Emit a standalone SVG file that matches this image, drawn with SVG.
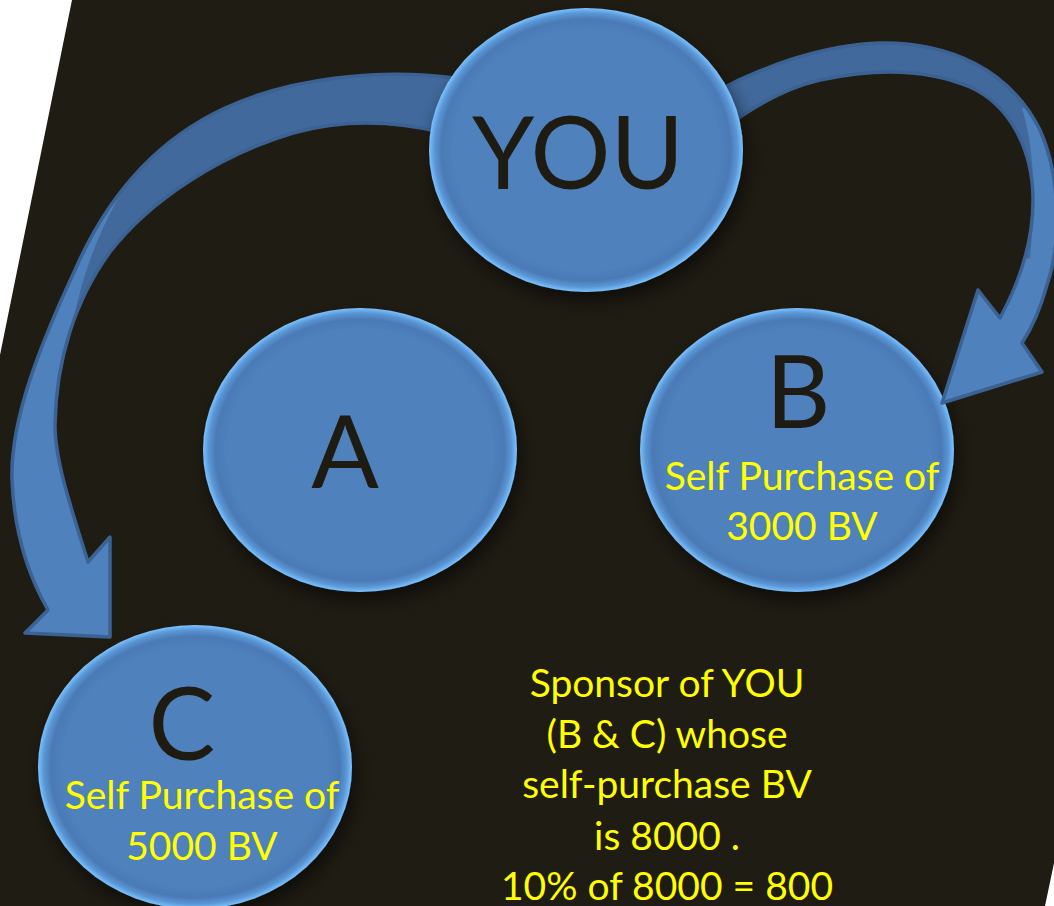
<svg xmlns="http://www.w3.org/2000/svg" width="1054" height="906" viewBox="0 0 1054 906">
<style>
.big{font-family:Lato,"Liberation Sans",sans-serif;font-size:100px;fill:#1e1b12;text-anchor:middle}
.yel{font-family:Lato,"Liberation Sans",sans-serif;font-size:39px;fill:#ffff00;text-anchor:middle}
.node{fill:url(#bubble);filter:url(#sh)}
.face{fill:#4f81bd}
.back{fill:#41699c}
.edge{fill:none;stroke:#3b6293;stroke-width:3.5;stroke-linejoin:round}
</style>
<defs>
<radialGradient id="bubble" cx="0.5" cy="0.5" r="0.5">
<stop offset="0" stop-color="#4f81bd"/>
<stop offset="0.85" stop-color="#4f81bd"/>
<stop offset="0.92" stop-color="#4a7ab5"/>
<stop offset="0.965" stop-color="#5a96d6"/>
<stop offset="1" stop-color="#7cc2ff"/>
</radialGradient>
<filter id="sh" x="-20%" y="-20%" width="150%" height="160%">
<feGaussianBlur in="SourceAlpha" stdDeviation="9"/>
<feOffset dx="4" dy="9" result="b"/>
<feFlood flood-color="#000" flood-opacity="0.55"/>
<feComposite in2="b" operator="in"/>
<feMerge><feMergeNode/><feMergeNode in="SourceGraphic"/></feMerge>
</filter>
<path id="arrL" d="M 455,78 C 380,68 290,78 225,108 C 160,138 110,190 75,270 C 40,345 10,420 12,480 C 14,530 28,575 48,610 L 25,633 L 110,637 L 110,537 L 88,562 C 70,505 55,460 55,425 C 56,360 75,300 110,252 C 150,200 220,155 293,133 C 340,120 390,120 440,132 Z"/>
<path id="arrR" d="M 715,92 C 760,68 820,45 880,43 C 950,42 1010,70 1040,130 C 1060,175 1062,240 1047,285 C 1040,310 1032,328 1022,343 L 1042,372 L 942,403 L 978,290 L 1000,318 C 1018,285 1033,245 1033,200 C 1033,150 1010,105 970,87 C 930,70 880,67 820,80 C 785,88 755,105 725,128 Z"/>
<clipPath id="clipL"><use href="#arrL"/></clipPath>
<clipPath id="clipR"><use href="#arrR"/></clipPath>
</defs>
<rect width="1054" height="906" fill="#ffffff"/>
<polygon points="72,0 1054,0 1054,863 1045,906 0,906 0,355" fill="#1f1c13"/>

<g id="node-A"><ellipse class="node" cx="360" cy="450" rx="157" ry="142"/><text class="big" x="345" y="488">A</text></g>
<g id="node-B"><ellipse class="node" cx="797" cy="450" rx="157" ry="142"/><text class="big" x="798" y="428">B</text><text class="yel" x="802" y="490">Self Purchase of</text><text class="yel" x="802" y="540">3000 BV</text></g>
<g id="node-C"><ellipse class="node" cx="195" cy="767" rx="157" ry="142"/><text class="big" x="182" y="760">C</text><text class="yel" x="202" y="809">Self Purchase of</text><text class="yel" x="202" y="860">5000 BV</text></g>

<g id="connectors">
<g id="arrow-you-c">
<use href="#arrL" class="face"/>
<path class="back" clip-path="url(#clipL)" d="M 120,130 L 145,160 C 115,195 90,250 78,300 C 68,340 62,380 57,420 L 57,440 L 200,440 L 520,200 L 520,0 L 200,0 Z"/>
<use href="#arrL" class="edge"/>
</g>
<g id="arrow-you-b">
<use href="#arrR" class="face"/>
<path class="back" clip-path="url(#clipR)" d="M 1070,100 L 1022,108 C 1033,145 1037,190 1030,258 L 1000,265 L 980,200 L 700,200 L 700,0 L 1070,0 Z"/>
<use href="#arrR" class="edge"/>
</g>
</g>

<g id="node-YOU"><ellipse class="node" cx="586" cy="150" rx="157" ry="142"/><text class="big" x="578" y="189">YOU</text></g>

<g id="note">
<text class="yel" x="667" y="697">Sponsor of YOU</text>
<text class="yel" x="667" y="748">(B &amp; C) whose</text>
<text class="yel" x="667" y="798">self-purchase BV</text>
<text class="yel" x="667" y="850">is 8000 .</text>
<text class="yel" x="667" y="900">10% of 8000 = 800</text>
</g>
</svg>
